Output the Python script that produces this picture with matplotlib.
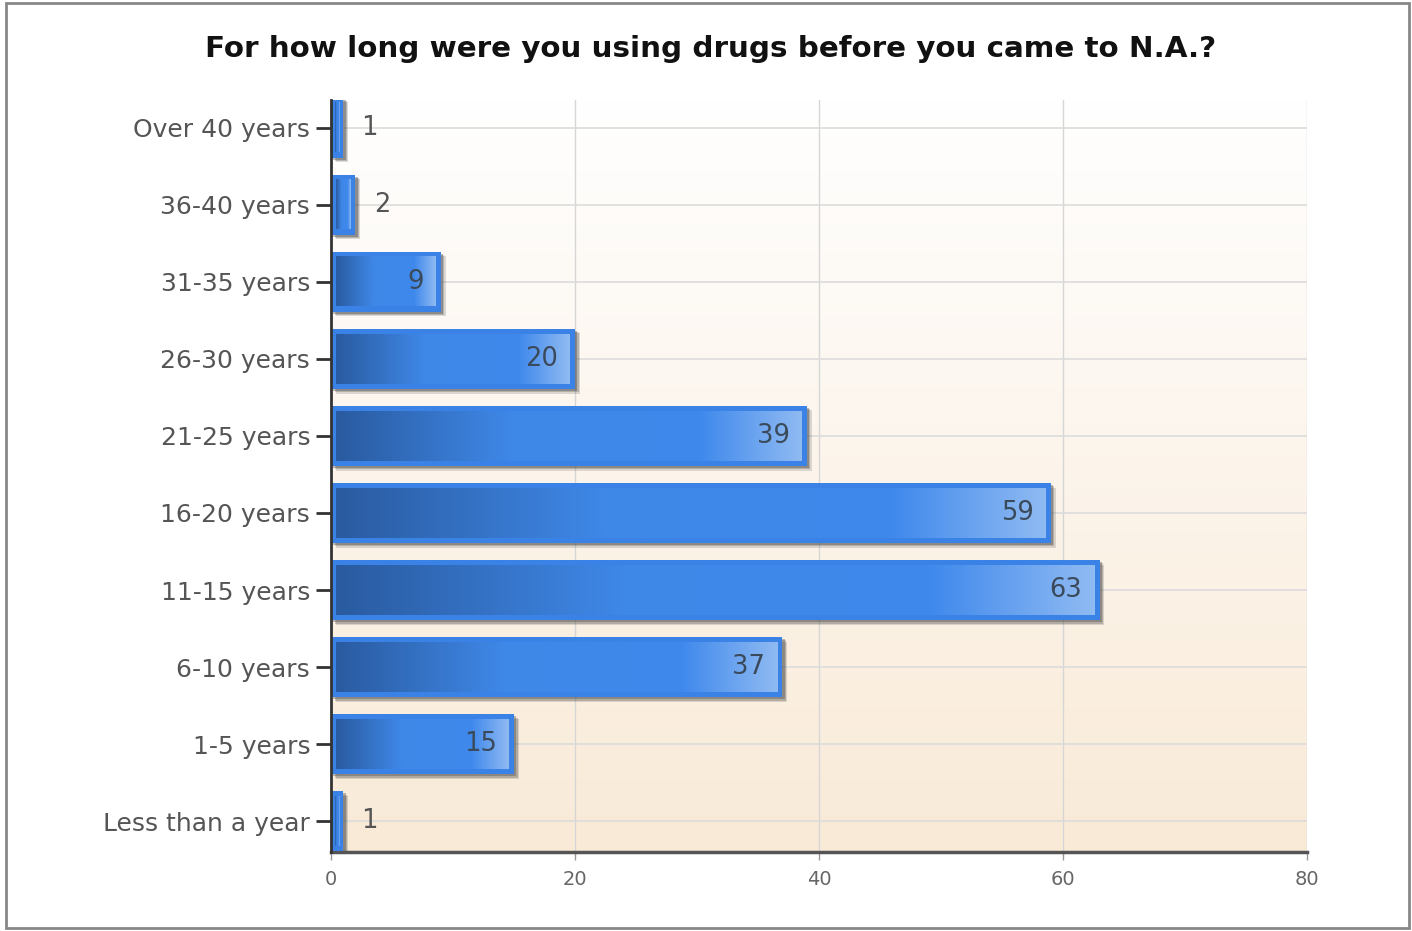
"""Horizontal bar chart: how long respondents used drugs before coming to N.A."""

import matplotlib
matplotlib.use("Agg")
import matplotlib.pyplot as plt
import numpy as np
from matplotlib.colors import LinearSegmentedColormap
from matplotlib.patches import Rectangle

plt.rcParams["font.family"] = ["DejaVu Sans"]

categories = [
    "Less than a year", "1-5 years", "6-10 years", "11-15 years", "16-20 years",
    "21-25 years", "26-30 years", "31-35 years", "36-40 years", "Over 40 years",
]
counts = [1, 15, 37, 63, 59, 39, 20, 9, 2, 1]
x_ticks = [0, 20, 40, 60, 80]
title = "For how long were you using drugs before you came to N.A.?"

bar_cmap = LinearSegmentedColormap.from_list(
    "bar", [(0.0, "#2a5ba0"), (0.38, "#3f88e8"), (0.78, "#3e88ec"), (1.0, "#8fbaf2")]
)
bg_cmap = LinearSegmentedColormap.from_list("bg", ["#ffffff", "#f9ead7"])

fig = plt.figure(figsize=(14.12, 9.31), dpi=100)
ax = fig.add_axes([0.2344, 0.0849, 0.6912, 0.8077])

xmin, xmax = 0, 80
ymin, ymax = -0.4, 9.36

# background gradient: white at the top, beige at the bottom
bg = np.linspace(1, 0, 256).reshape(-1, 1)
ax.imshow(bg, cmap=bg_cmap, aspect="auto", extent=(xmin, xmax, ymin, ymax),
          origin="lower", zorder=0)

# grid
for x in x_ticks[1:]:
    ax.axvline(x, color="#d6d6d6", linewidth=1, zorder=1)
for i in range(len(categories)):
    ax.axhline(i, color="#dcdcdc", linewidth=1.2, zorder=1)

bar_h = 0.78
grad = np.linspace(0, 1, 256).reshape(1, -1)
for i, v in enumerate(counts):
    y0 = i - bar_h / 2
    # soft drop shadow
    for k, a in enumerate([0.18, 0.25, 0.35]):
        off = 0.4 - k * 0.1
        ax.add_patch(Rectangle((off, y0 - off * 0.15), v, bar_h, facecolor="#444444",
                               alpha=a, edgecolor="none", zorder=2))
    # outer rim
    ax.add_patch(Rectangle((0, y0), v, bar_h, facecolor="#3b82e6",
                           edgecolor="none", zorder=3))
    # inner gradient
    dx = min(0.42, v * 0.3)
    dy = 0.07
    ax.imshow(grad, cmap=bar_cmap, aspect="auto",
              extent=(dx, v - dx, y0 + dy, y0 + bar_h - dy), zorder=4)
    if v >= 5:
        ax.text(v - 1.4, i, str(v), ha="right", va="center", fontsize=18.5,
                color="#3a4a5a", zorder=5)
    else:
        ax.text(v + 1.5, i, str(v), ha="left", va="center", fontsize=18.5,
                color="#555555", zorder=5)

ax.set_xlim(xmin, xmax)
ax.set_ylim(ymin, ymax)
ax.set_xticks(x_ticks)
ax.set_xticklabels([str(t) for t in x_ticks], fontsize=14, color="#666666")
ax.set_yticks(range(len(categories)))
ax.set_yticklabels(categories, fontsize=18, color="#555555")
ax.tick_params(axis="y", length=11, width=2, color="#333333", pad=4)
ax.tick_params(axis="x", length=6, width=1, color="#999999", pad=7)

for side in ("top", "right"):
    ax.spines[side].set_visible(False)
ax.spines["left"].set_color("#333333")
ax.spines["left"].set_linewidth(2)
ax.spines["left"].set_zorder(6)
ax.spines["bottom"].set_color("#555555")
ax.spines["bottom"].set_linewidth(2.5)

fig.text(0.503, 0.947, title, ha="center", va="center", fontsize=21.2,
         fontweight="bold", color="#111111")

# outer frame around the whole chart
fig.patches.append(Rectangle((0.004, 0.003), 0.994, 0.994, transform=fig.transFigure,
                             fill=False, edgecolor="#888888", linewidth=2))

fig.savefig("out.png", dpi=100)
